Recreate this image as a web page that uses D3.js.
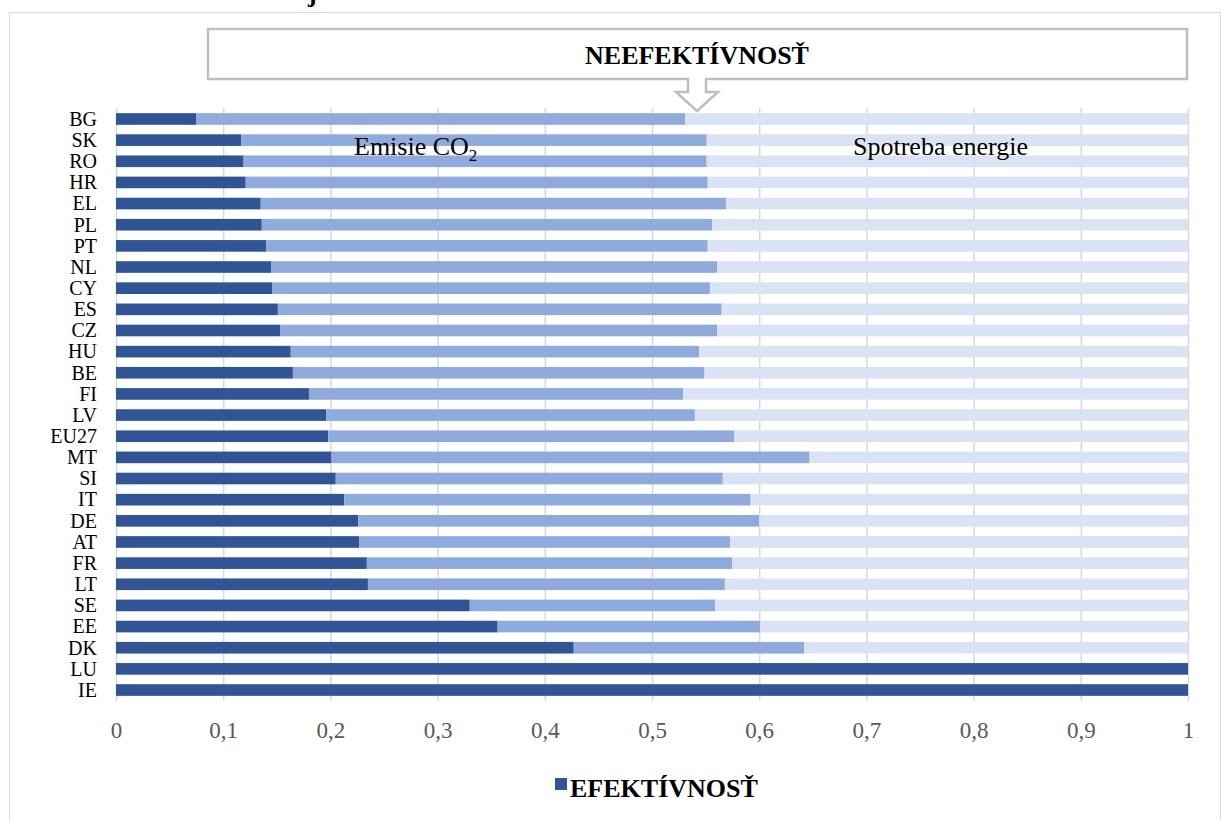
<!DOCTYPE html>
<html><head><meta charset="utf-8">
<script src="https://cdn.jsdelivr.net/npm/d3@7"></script>
<style>body{margin:0;background:#fff;}svg{display:block;}</style>
</head><body>
<svg id="c" width="1229" height="820"></svg>
<script>
const categories = ["BG","SK","RO","HR","EL","PL","PT","NL","CY","ES","CZ","HU","BE","FI","LV","EU27","MT","SI","IT","DE","AT","FR","LT","SE","EE","DK","LU","IE"];
const efektivnost = [0.075,0.117,0.119,0.121,0.135,0.136,0.140,0.145,0.146,0.151,0.153,0.163,0.165,0.180,0.196,0.198,0.201,0.205,0.213,0.226,0.227,0.234,0.235,0.330,0.356,0.427,1,1];
const emisieCO2 = [0.456,0.434,0.432,0.431,0.434,0.420,0.412,0.416,0.408,0.414,0.408,0.381,0.384,0.349,0.344,0.379,0.446,0.361,0.379,0.374,0.346,0.341,0.333,0.229,0.245,0.215,0,0];
const spotrebaEnergie = [0.469,0.449,0.449,0.448,0.431,0.444,0.448,0.439,0.446,0.435,0.439,0.456,0.451,0.471,0.460,0.423,0.353,0.434,0.408,0.400,0.427,0.425,0.432,0.441,0.399,0.358,0,0];
const xTicks = [0,0.1,0.2,0.3,0.4,0.5,0.6,0.7,0.8,0.9,1];
const tickLabels = ["0","0,1","0,2","0,3","0,4","0,5","0,6","0,7","0,8","0,9","1"];
const seriesNames = ["EFEKTÍVNOSŤ","Emisie CO2","Spotreba energie"];
const colors = ["#2F5597","#8FAADC","#DAE3F3"];

const svg = d3.select("#c");
const serif = "'Liberation Serif','Times New Roman',serif";

// outer chart border
svg.append("rect").attr("x",9.5).attr("y",12.5).attr("width",1211).attr("height",830)
  .attr("fill","none").attr("stroke","#d9d9d9").attr("stroke-width",1);

// cut-off title glyph (title lies above the visible area)
svg.append("text").attr("x",308).attr("y",2).attr("font-family",serif).attr("font-weight","bold")
  .attr("font-size",26).attr("fill","#000").text("j");

const x = d3.scaleLinear().domain([0,1]).range([116,1188]);
const y = d3.scaleBand().domain(categories).range([108.4,700.6]).paddingInner(0.45).paddingOuter(0.225);

// gridlines
svg.append("g").selectAll("line").data(xTicks).join("line")
  .attr("x1",d=>x(d)+0.5).attr("x2",d=>x(d)+0.5).attr("y1",108).attr("y2",701)
  .attr("stroke","#d9d9d9").attr("stroke-width",1.5);

const stackData = categories.map((c,i)=>({cat:c, a:efektivnost[i], b:emisieCO2[i], c:spotrebaEnergie[i]}));
const stack = d3.stack().keys(["a","b","c"])(stackData);

svg.append("g").selectAll("g").data(stack).join("g")
  .attr("fill",(d,i)=>colors[i])
  .selectAll("rect").data(d=>d).join("rect")
  .attr("x",d=>x(d[0])).attr("width",d=>Math.max(0,x(d[1])-x(d[0])))
  .attr("y",d=>y(d.data.cat)).attr("height",y.bandwidth());

// category axis
const yAxis = svg.append("g").attr("transform","translate(116,0)")
  .call(d3.axisLeft(y).tickSize(0).tickPadding(19));
yAxis.select(".domain").remove();
yAxis.selectAll("text").attr("font-family",serif).attr("font-size",20).attr("fill","#000").attr("dy","0.34em");

// x axis
const xAxis = svg.append("g").attr("transform","translate(0,701)")
  .call(d3.axisBottom(x).tickValues(xTicks).tickFormat((d,i)=>tickLabels[i]).tickSize(0).tickPadding(21));
xAxis.select(".domain").remove();
xAxis.selectAll("text").attr("font-family",serif).attr("font-size",23).attr("fill","#595959");

// in-chart labels
svg.append("text").attr("x",354).attr("y",155).attr("font-family",serif).attr("font-size",26).attr("fill","#000")
  .text("Emisie CO").append("tspan").attr("font-size",17).attr("dy",6).text("2");
svg.append("text").attr("x",853).attr("y",155).attr("font-family",serif).attr("font-size",26).attr("fill","#000")
  .text(seriesNames[2]);

// callout
const cx = 697;
const callout = `M208,29 L1187,29 L1187,79 L706,79 L706,92 L718,92 L${cx},111 L676,92 L688,92 L688,79 L208,79 Z`;
svg.append("path").attr("d",callout).attr("fill","#fff").attr("stroke","#bfbfbf").attr("stroke-width",2.5);
svg.append("text").attr("x",cx).attr("y",64).attr("text-anchor","middle").attr("font-family",serif)
  .attr("font-weight","bold").attr("font-size",26).attr("fill","#000").text("NEEFEKTÍVNOSŤ");

// legend
svg.append("rect").attr("x",555).attr("y",778).attr("width",12).attr("height",12).attr("fill",colors[0]);
svg.append("text").attr("x",570).attr("y",797).attr("font-family",serif).attr("font-weight","bold")
  .attr("font-size",26).attr("fill","#000").text(seriesNames[0]);
</script>
</body></html>
